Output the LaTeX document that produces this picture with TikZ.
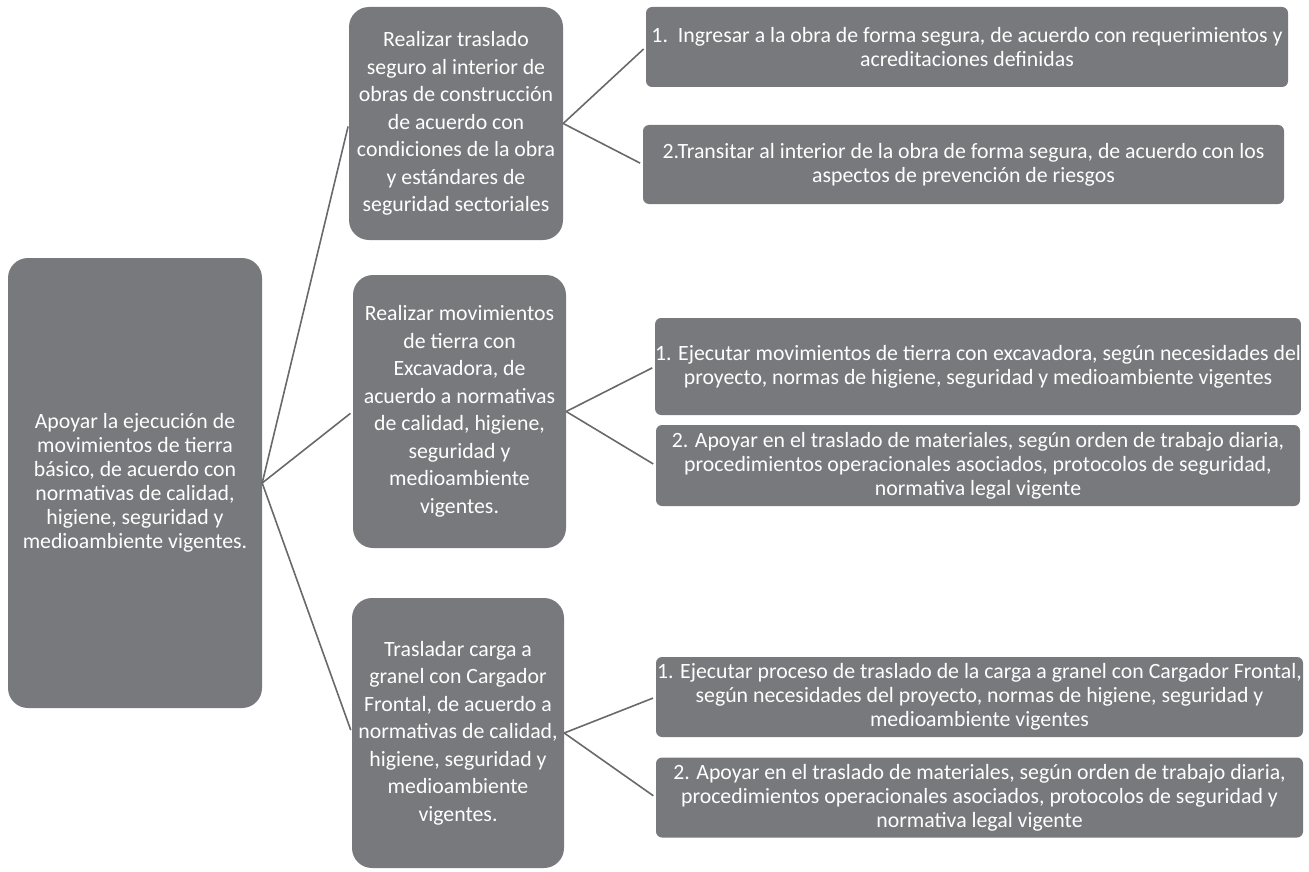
\documentclass[tikz,border=0pt]{standalone}
\usepackage{fontspec}
\setmainfont{Carlito}
\usetikzlibrary{positioning}
\definecolor{BoxGray}{RGB}{120,121,125}
\definecolor{LineGray}{RGB}{105,105,108}

\begin{document}
\begin{tikzpicture}[x=1pt, y=-1pt,
  box/.style={fill=BoxGray, text=white, align=center, inner sep=0pt, font=\fontsize{21.8}{24}\selectfont},
  bigbox/.style={box, rounded corners=20pt},
  midbox/.style={bigbox, font=\fontsize{21.8}{27.5}\selectfont},
  leaf/.style={box, rounded corners=6pt},
  link/.style={draw=LineGray, line width=1.6pt, shorten >=3pt}]
\useasboundingbox (0,0) rectangle (1309,872); % page

% main task
\node[bigbox, minimum width=254pt, minimum height=450pt] (apoyar) at (135,483) {Apoyar la ejecución de\\movimientos de tierra\\básico, de acuerdo con\\normativas de calidad,\\higiene, seguridad y\\medioambiente vigentes.};

% second level
\node[midbox, minimum width=214pt, minimum height=233pt] (traslado) at (456,123.5) {Realizar traslado\\seguro al interior de\\obras de construcción\\de acuerdo con\\condiciones de la obra\\y estándares de\\seguridad sectoriales};
\node[midbox, minimum width=213pt, minimum height=273pt] (excav) at (459.5,411.5) {Realizar movimientos\\de tierra con\\Excavadora, de\\acuerdo a normativas\\de calidad, higiene,\\seguridad y\\medioambiente\\vigentes.};
\node[midbox, minimum width=212pt, minimum height=270pt] (carga) at (458,733) {Trasladar carga a\\granel con Cargador\\Frontal, de acuerdo a\\normativas de calidad,\\higiene, seguridad y\\medioambiente\\vigentes.};

% third level
\node[leaf, minimum width=642pt, minimum height=80pt] (trasA) at (967,47) {1.\ \ Ingresar a la obra de forma segura, de acuerdo con requerimientos y\\acreditaciones definidas};
\node[leaf, minimum width=641pt, minimum height=79pt] (trasB) at (963.5,164.5) {2.Transitar al interior de la obra de forma segura, de acuerdo con los\\aspectos de prevención de riesgos};
\node[leaf, minimum width=644pt, minimum height=97pt] (excA) at (978,366.5) {1. Ejecutar movimientos de tierra con excavadora, según necesidades del\\proyecto, normas de higiene, seguridad y medioambiente vigentes};
\node[leaf, minimum width=644pt, minimum height=81pt] (excB) at (978,465.5) {2. Apoyar en el traslado de materiales, según orden de trabajo diaria,\\procedimientos operacionales asociados, protocolos de seguridad,\\normativa legal vigente};
\node[leaf, minimum width=647pt, minimum height=80pt] (carA) at (979.5,697) {1. Ejecutar proceso de traslado de la carga a granel con Cargador Frontal,\\según necesidades del proyecto, normas de higiene, seguridad y\\medioambiente vigentes};
\node[leaf, minimum width=647pt, minimum height=80pt] (carB) at (979.5,797.5) {2. Apoyar en el traslado de materiales, según orden de trabajo diaria,\\procedimientos operacionales asociados, protocolos de seguridad y\\normativa legal vigente};

% connectors
\draw[link] (apoyar.east) -- (traslado.west);
\draw[link] (apoyar.east) -- (excav.west);
\draw[link] (apoyar.east) -- (carga.west);
\draw[link] (traslado.east) -- (trasA.west);
\draw[link] (traslado.east) -- (trasB.west);
\draw[link] (excav.east) -- (excA.west);
\draw[link] (excav.east) -- (excB.west);
\draw[link] (carga.east) -- (carA.west);
\draw[link] (carga.east) -- (carB.west);

\end{tikzpicture}
\end{document}
